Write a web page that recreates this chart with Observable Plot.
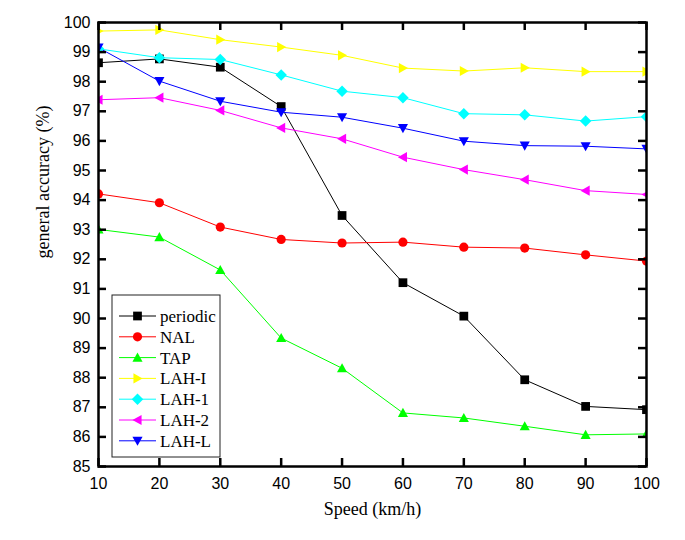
<!DOCTYPE html>
<html>
<head>
<meta charset="utf-8">
<script src="https://cdn.jsdelivr.net/npm/d3@7"></script>
<script src="https://cdn.jsdelivr.net/npm/@observablehq/plot@0.6"></script>
<style>
  html, body { margin: 0; padding: 0; background: #fff; }
  #chart { position: relative; width: 685px; height: 540px; }
</style>
</head>
<body>
<div id="chart"></div>
<script>
// ---- data ----
const speeds = [10, 20, 30, 40, 50, 60, 70, 80, 90, 100];
const periodic = [98.64, 98.77, 98.49, 97.16, 93.48, 91.21, 90.08, 87.93, 87.03, 86.92];
const nal      = [94.21, 93.91, 93.09, 92.67, 92.55, 92.58, 92.41, 92.38, 92.15, 91.94];
const tap      = [93.01, 92.75, 91.64, 89.34, 88.32, 86.81, 86.64, 86.36, 86.07, 86.10];
const lahI     = [99.71, 99.75, 99.42, 99.17, 98.89, 98.46, 98.36, 98.47, 98.34, 98.34];
const lah1     = [99.11, 98.81, 98.75, 98.23, 97.68, 97.46, 96.92, 96.88, 96.67, 96.82];
const lah2     = [97.39, 97.46, 97.03, 96.44, 96.07, 95.45, 95.03, 94.69, 94.32, 94.19];
const lahL     = [99.15, 98.02, 97.34, 96.97, 96.80, 96.43, 95.99, 95.84, 95.82, 95.73];

const seriesNames = ["periodic", "NAL", "TAP", "LAH-I", "LAH-1", "LAH-2", "LAH-L"];
const seriesValues = [periodic, nal, tap, lahI, lah1, lah2, lahL];
const seriesColors = ["#000000", "#ff0000", "#00ff00", "#ffff00", "#00ffff", "#ff00ff", "#0000ff"];
const seriesShapes = ["square", "circle", "triUp", "triRight", "diamond", "triLeft", "triDown"];

const xTicks = [10, 20, 30, 40, 50, 60, 70, 80, 90, 100];
const yTicks = [85, 86, 87, 88, 89, 90, 91, 92, 93, 94, 95, 96, 97, 98, 99, 100];
const xTitle = "Speed (km/h)";
const yTitle = "general accuracy (%)";

// ---- layout ----
const W = 685, H = 540, mL = 98, mR = 39, mT = 22, mB = 74;
const innerW = W - mL - mR, innerH = H - mT - mB, tickLen = 8;

// ---- marker shapes ----
function poly(ctx, pts) {
  ctx.moveTo(pts[0][0], pts[0][1]);
  for (let i = 1; i < pts.length; i++) ctx.lineTo(pts[i][0], pts[i][1]);
  ctx.closePath();
}
const symbols = {
  square:  {draw(c, s) { const h = Math.sqrt(s / Math.PI) * 0.95; poly(c, [[-h,-h],[h,-h],[h,h],[-h,h]]); }},
  circle:  {draw(c, s) { const r = Math.sqrt(s / Math.PI); c.moveTo(r, 0); c.arc(0, 0, r, 0, 2 * Math.PI); }},
  triUp:   {draw(c, s) { const h = Math.sqrt(s / Math.PI) * 1.1; poly(c, [[0,-h],[h,h*0.8],[-h,h*0.8]]); }},
  triDown: {draw(c, s) { const h = Math.sqrt(s / Math.PI) * 1.1; poly(c, [[0,h],[h,-h*0.8],[-h,-h*0.8]]); }},
  triRight:{draw(c, s) { const h = Math.sqrt(s / Math.PI) * 1.1; poly(c, [[h,0],[-h*0.8,-h],[-h*0.8,h]]); }},
  triLeft: {draw(c, s) { const h = Math.sqrt(s / Math.PI) * 1.1; poly(c, [[-h,0],[h*0.8,-h],[h*0.8,h]]); }},
  diamond: {draw(c, s) { const h = Math.sqrt(s / Math.PI) * 1.25; poly(c, [[0,-h],[h,0],[0,h],[-h,0]]); }}
};

const rows = [];
seriesNames.forEach((name, i) => {
  speeds.forEach((sp, j) => rows.push({series: name, speed: sp, acc: seriesValues[i][j]}));
});

const serifFont = "'Liberation Serif', 'Times New Roman', serif";
const sansFont = "'Liberation Sans', Arial, sans-serif";

const marks = [];
seriesNames.forEach((name, i) => {
  const data = rows.filter(d => d.series === name);
  marks.push(Plot.line(data, {x: "speed", y: "acc", stroke: seriesColors[i], strokeWidth: 1, clip: true}));
});
seriesNames.forEach((name, i) => {
  const data = rows.filter(d => d.series === name);
  marks.push(Plot.dot(data, {x: "speed", y: "acc", fill: seriesColors[i], stroke: "none", r: 4.6,
    symbol: symbols[seriesShapes[i]], clip: true}));
});

const chart = Plot.plot({
  width: W,
  height: H,
  marginLeft: mL,
  marginRight: mR,
  marginTop: mT,
  marginBottom: mB,
  style: {background: "#fff", color: "#000", overflow: "visible"},
  x: {domain: [10, 100], axis: null},
  y: {domain: [85, 100], axis: null},
  marks: [
    ...marks,
    // inward ticks on all four sides
    Plot.tickX(xTicks, {x: d => d, stroke: "#000", strokeWidth: 2.5, insetTop: innerH - tickLen}),
    Plot.tickX(xTicks, {x: d => d, stroke: "#000", strokeWidth: 2.5, insetBottom: innerH - tickLen}),
    Plot.tickY(yTicks, {y: d => d, stroke: "#000", strokeWidth: 2.5, insetRight: innerW - tickLen}),
    Plot.tickY(yTicks, {y: d => d, stroke: "#000", strokeWidth: 2.5, insetLeft: innerW - tickLen}),
    Plot.axisX(xTicks, {anchor: "bottom", tickSize: 0, tickPadding: 11, fontSize: 16,
      fontFamily: sansFont, label: null, tickFormat: d => String(d)}),
    Plot.axisY(yTicks, {anchor: "left", tickSize: 0, tickPadding: 8, fontSize: 16,
      fontFamily: sansFont, label: null, tickFormat: d => String(d)}),
    Plot.frame({stroke: "#000", strokeWidth: 2.5}),
    Plot.text([xTitle], {frameAnchor: "bottom", dy: 48, fontSize: 18, fontFamily: serifFont, fill: "#000"}),
    Plot.text([yTitle], {frameAnchor: "left", dx: -55, dy: 14, rotate: -90, fontSize: 18, fontFamily: serifFont, fill: "#000"})
  ]
});

document.getElementById("chart").appendChild(chart);

// ---- legend ----
const svg = d3.select(chart);
const lg = svg.append("g").attr("class", "legend").attr("text-anchor", "start");
const box = {x: 112, y: 295, w: 108, h: 162, rowTop: 316, rowStep: 20.8};
lg.append("rect").attr("x", box.x).attr("y", box.y).attr("width", box.w).attr("height", box.h)
  .attr("fill", "#fff").attr("stroke", "#222").attr("stroke-width", 1);
seriesNames.forEach((name, i) => {
  const y = box.rowTop + i * box.rowStep;
  const row = lg.append("g").attr("transform", `translate(0,${y})`);
  row.append("line").attr("x1", 119).attr("x2", 156).attr("y1", 0).attr("y2", 0)
    .attr("stroke", seriesColors[i]).attr("stroke-width", 1);
  const p = d3.path();
  symbols[seriesShapes[i]].draw(p, Math.PI * 4.6 * 4.6);
  row.append("path").attr("d", p.toString()).attr("transform", "translate(137.5,0)")
    .attr("fill", seriesColors[i]);
  row.append("text").attr("x", 160).attr("y", 0).attr("dy", "0.35em").attr("text-anchor", "start")
    .attr("font-family", serifFont).attr("font-size", 17).attr("fill", "#000").text(name);
});
</script>
</body>
</html>
